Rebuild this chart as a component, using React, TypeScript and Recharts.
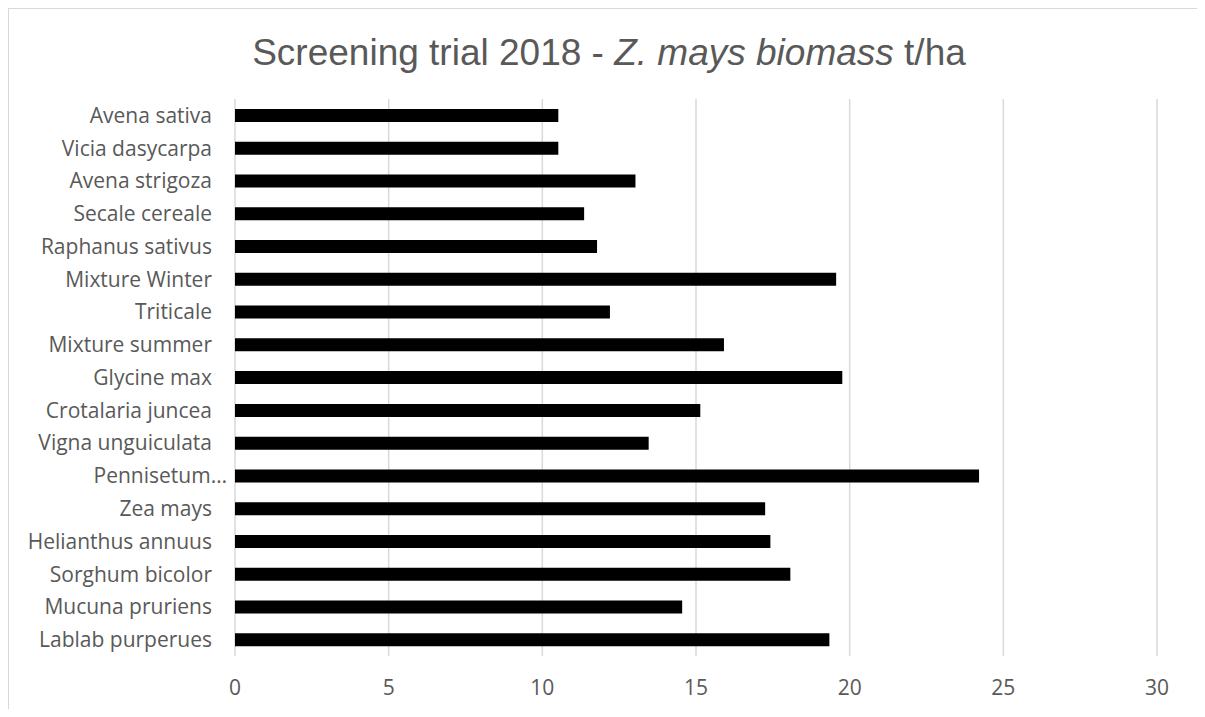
import { BarChart, Bar, XAxis, YAxis, CartesianGrid } from 'recharts'

const species = [
  'Avena sativa',
  'Vicia dasycarpa',
  'Avena strigoza',
  'Secale cereale',
  'Raphanus sativus',
  'Mixture Winter ',
  'Triticale',
  'Mixture summer',
  'Glycine max',
  'Crotalaria juncea',
  'Vigna unguiculata',
  'Pennisetum…',
  'Zea mays',
  'Helianthus annuus',
  'Sorghum bicolor',
  'Mucuna pruriens',
  'Lablab purperues',
]

const biomass = [
  10.52, 10.52, 13.03, 11.36, 11.78, 19.56, 12.2, 15.91, 19.76, 15.14, 13.46, 24.21, 17.25, 17.42,
  18.07, 14.55, 19.34,
]

const xTicks = [0, 5, 10, 15, 20, 25, 30]

const data = species.map((name, i) => ({ name, biomass: biomass[i] }))

const gray = '#595959'
const tickFont = { fontFamily: '"Open Sans", sans-serif', fontSize: 21, fill: gray }

function SpeciesTick(props: any) {
  const { x, y, payload } = props
  const shift = String(payload.value).endsWith('…') ? 15 : 0
  return (
    <text x={x + shift} y={y} dy="0.355em" textAnchor="end" {...tickFont}>
      {payload.value}
    </text>
  )
}

export default function App() {
  return (
    <div
      style={{
        position: 'relative',
        width: 1188,
        height: 700,
        borderTop: '1px solid #d9d9d9',
        borderLeft: '1px solid #d9d9d9',
        background: '#fff',
      }}
    >
      <div
        style={{
          position: 'absolute',
          left: 12,
          top: 25,
          width: 1176,
          textAlign: 'center',
          fontFamily: '"Liberation Sans", Arial, sans-serif',
          fontSize: 37,
          lineHeight: 1,
          color: gray,
          whiteSpace: 'nowrap',
        }}
      >
        Screening trial 2018 - <i>Z. mays biomass</i> t/ha
      </div>
      <BarChart
        width={1188}
        height={699}
        data={data}
        layout="vertical"
        margin={{ top: 90, right: 40, bottom: 0, left: 0 }}
        barCategoryGap={0}
      >
        <CartesianGrid horizontal={false} stroke="#d9d9d9" strokeWidth={1.5} />
        <XAxis
          type="number"
          domain={[0, 30]}
          ticks={xTicks}
          axisLine={false}
          tickLine={false}
          tickSize={0}
          tickMargin={24}
          height={52}
          tick={tickFont}
          interval={0}
        />
        <YAxis
          type="category"
          dataKey="name"
          width={226}
          axisLine={false}
          tickLine={false}
          tickSize={0}
          tickMargin={23}
          interval={0}
          tick={<SpeciesTick />}
        />
        <Bar dataKey="biomass" fill="#000000" barSize={13} isAnimationActive={false} />
      </BarChart>
    </div>
  )
}
